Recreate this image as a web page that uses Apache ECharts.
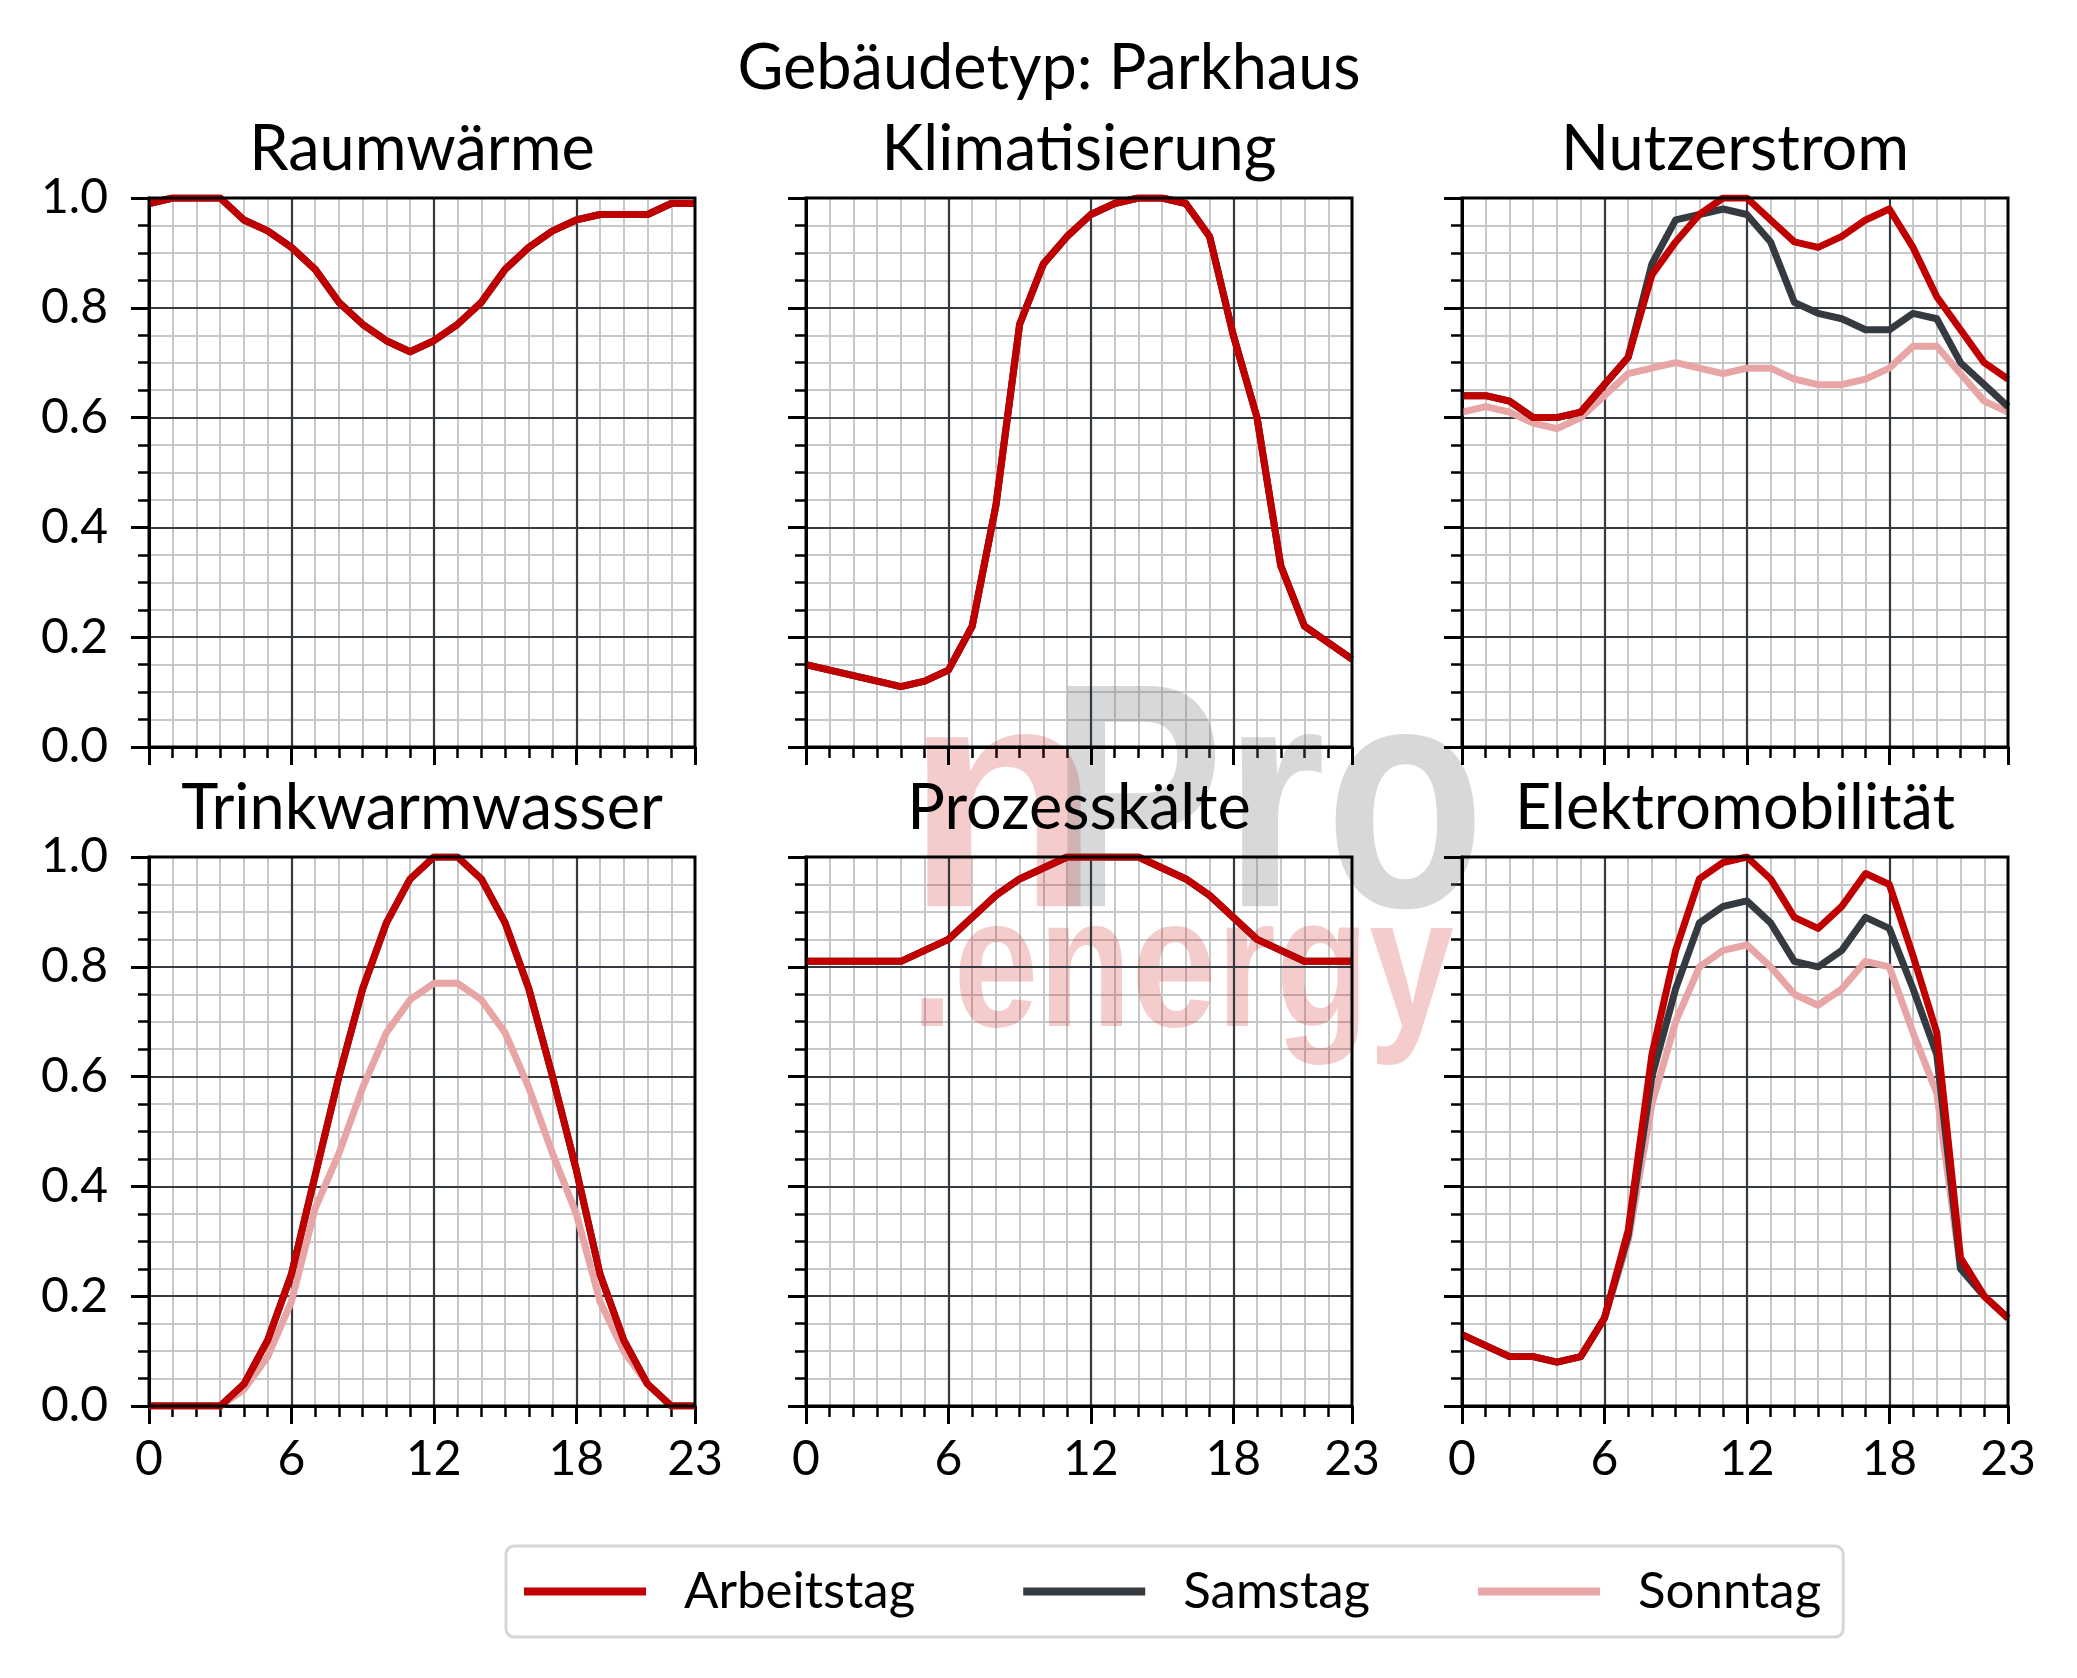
<!DOCTYPE html>
<html>
<head>
<meta charset="utf-8">
<script src="https://cdn.jsdelivr.net/npm/echarts@6/dist/echarts.min.js"></script>
<style>
html,body{margin:0;padding:0;background:#fff;}
#chart{width:2077px;height:1678px;}
</style>
</head>
<body>
<div id="chart"></div>
<script>
// ---------- data ----------
const hours = [0,1,2,3,4,5,6,7,8,9,10,11,12,13,14,15,16,17,18,19,20,21,22,23];
const xTickLabels = ['0','6','12','18','23'];
const seriesNames = ['Arbeitstag','Samstag','Sonntag'];
const panelTitles = ['Raumwärme','Klimatisierung','Nutzerstrom','Trinkwarmwasser','Prozesskälte','Elektromobilität'];
const mainTitle = 'Gebäudetyp: Parkhaus';

const raumAT = [0.99,1.00,1.00,1.00,0.96,0.94,0.91,0.87,0.81,0.77,0.74,0.72,0.74,0.77,0.81,0.87,0.91,0.94,0.96,0.97,0.97,0.97,0.99,0.99];
const raumSA = raumAT;
const raumSO = raumAT;

const klimaAT = [0.15,0.14,0.13,0.12,0.11,0.12,0.14,0.22,0.44,0.77,0.88,0.93,0.97,0.99,1.00,1.00,0.99,0.93,0.75,0.60,0.33,0.22,0.19,0.16];
const klimaSA = klimaAT;
const klimaSO = klimaAT;

const nutzerAT = [0.64,0.64,0.63,0.60,0.60,0.61,0.66,0.71,0.86,0.92,0.97,1.00,1.00,0.96,0.92,0.91,0.93,0.96,0.98,0.91,0.82,0.76,0.70,0.67];
const nutzerSA = [0.64,0.64,0.63,0.60,0.60,0.61,0.66,0.71,0.88,0.96,0.97,0.98,0.97,0.92,0.81,0.79,0.78,0.76,0.76,0.79,0.78,0.70,0.66,0.62];
const nutzerSO = [0.61,0.62,0.61,0.59,0.58,0.60,0.64,0.68,0.69,0.70,0.69,0.68,0.69,0.69,0.67,0.66,0.66,0.67,0.69,0.73,0.73,0.68,0.63,0.61];

const twwAT = [0,0,0,0,0.04,0.12,0.24,0.42,0.60,0.76,0.88,0.96,1.00,1.00,0.96,0.88,0.76,0.60,0.43,0.24,0.12,0.04,0,0];
const twwSA = twwAT;
const twwSO = [0,0,0,0,0.03,0.09,0.19,0.36,0.46,0.58,0.68,0.74,0.77,0.77,0.74,0.68,0.58,0.46,0.35,0.19,0.10,0.04,0,0];

const prozAT = [0.81,0.81,0.81,0.81,0.81,0.83,0.85,0.89,0.93,0.96,0.98,1.00,1.00,1.00,1.00,0.98,0.96,0.93,0.89,0.85,0.83,0.81,0.81,0.81];
const prozSA = prozAT;
const prozSO = prozAT;

const emobAT = [0.13,0.11,0.09,0.09,0.08,0.09,0.16,0.32,0.64,0.83,0.96,0.99,1.00,0.96,0.89,0.87,0.91,0.97,0.95,0.82,0.68,0.27,0.20,0.16];
const emobSA = [0.13,0.11,0.09,0.09,0.08,0.09,0.16,0.31,0.60,0.76,0.88,0.91,0.92,0.88,0.81,0.80,0.83,0.89,0.87,0.76,0.64,0.25,0.20,0.16];
const emobSO = [0.13,0.11,0.09,0.09,0.08,0.09,0.16,0.30,0.55,0.70,0.80,0.83,0.84,0.80,0.75,0.73,0.76,0.81,0.80,0.68,0.57,0.25,0.20,0.16];

const panelData = [
  [raumAT, raumSA, raumSO],
  [klimaAT, klimaSA, klimaSO],
  [nutzerAT, nutzerSA, nutzerSO],
  [twwAT, twwSA, twwSO],
  [prozAT, prozSA, prozSO],
  [emobAT, emobSA, emobSO]
];

// ---------- style ----------
const colors = ['#C00000', '#343A40', '#E8A5A5'];
const FONT = 'Lato';
const majorGrid = '#343A40';
const minorGrid = '#C8C8C8';
const colLeft = [149, 806, 1462];
const rowTop = [198, 857];
const gW = 546, gH = 549;

const grids = [], xAxes = [], yAxes = [], series = [], titles = [];

titles.push({
  text: mainTitle, left: 1049, top: 37, textAlign: 'center', padding: 0,
  textStyle: {fontFamily: FONT, fontSize: 63, fontWeight: 'normal', color: '#000', lineHeight: 63}
});

for (let p = 0; p < 6; p++) {
  const r = Math.floor(p / 3), c = p % 3;
  const left = colLeft[c], top = rowTop[r];
  grids.push({left: left, top: top, width: gW, height: gH, z: 0});
  grids.push({left: left, top: top, width: gW, height: gH, show: true,
              borderColor: '#000', borderWidth: 3, backgroundColor: 'transparent', z: 3});
  const gMinor = 2 * p, gMain = 2 * p + 1;

  xAxes.push({
    gridIndex: gMinor, type: 'value', min: 0, max: 23, interval: 1, z: 0,
    axisLine: {show: false},
    axisTick: {show: true, length: 11, lineStyle: {color: '#000', width: 2.5}},
    axisLabel: {show: false},
    splitLine: {show: true, showMinLine: false, showMaxLine: false, lineStyle: {color: minorGrid, width: 2}}
  });
  xAxes.push({
    gridIndex: gMain, type: 'value', min: 0, max: 23, interval: 6, z: 1,
    axisLine: {show: true, onZero: false, lineStyle: {color: '#000', width: 3}},
    axisTick: {show: true, length: 18, lineStyle: {color: '#000', width: 3}},
    axisLabel: {show: r === 1, margin: 30, fontFamily: FONT, fontSize: 48, color: '#000',
                formatter: v => { const s = String(Math.round(v)); return xTickLabels.indexOf(s) >= 0 ? s : ''; }},
    splitLine: {show: true, showMinLine: false, showMaxLine: false, lineStyle: {color: majorGrid, width: 2.2}}
  });
  yAxes.push({
    gridIndex: gMinor, type: 'value', min: 0, max: 1, interval: 0.05, z: 0,
    axisLine: {show: false},
    axisTick: {show: true, length: 11, lineStyle: {color: '#000', width: 2.5}},
    axisLabel: {show: false},
    splitLine: {show: true, showMinLine: false, showMaxLine: false, lineStyle: {color: minorGrid, width: 2}}
  });
  yAxes.push({
    gridIndex: gMain, type: 'value', min: 0, max: 1, interval: 0.2, z: 1,
    axisLine: {show: true, onZero: false, lineStyle: {color: '#000', width: 3}},
    axisTick: {show: true, length: 18, lineStyle: {color: '#000', width: 3}},
    axisLabel: {show: c === 0, margin: 41, fontFamily: FONT, fontSize: 48, color: '#000',
                formatter: v => v.toFixed(1)},
    splitLine: {show: true, showMinLine: false, showMaxLine: false, lineStyle: {color: majorGrid, width: 2.2}}
  });

  titles.push({
    text: panelTitles[p], left: left + gW / 2, top: top - 80, textAlign: 'center', padding: 0,
    textStyle: {fontFamily: FONT, fontSize: 63, fontWeight: 'normal', color: '#000', lineHeight: 63}
  });

  for (let k = 2; k >= 0; k--) {
    const arr = panelData[p][k];
    series.push({
      name: seriesNames[k], type: 'line', xAxisIndex: gMain, yAxisIndex: gMain,
      data: hours.map((h, i) => [h, arr[i]]),
      showSymbol: false, symbol: 'none', clip: true, z: 2, silent: true,
      color: colors[k],
      lineStyle: {color: colors[k], width: 7, join: 'round'},
      emphasis: {disabled: true}
    });
  }
}

// watermark (logo)
const wmRed = 'rgba(200,0,0,0.2)';
const wmGray = 'rgba(110,115,120,0.28)';
const graphic = [
  {type: 'text', x: 905, y: 818, scaleX: 1.0, z: 1, silent: true,
   style: {x: 0, y: 0, text: 'n', fill: wmRed, font: 'bold 320px "Liberation Sans"', textAlign: 'left', textVerticalAlign: 'middle'}},
  {type: 'text', x: 1050, y: 818, scaleX: 0.815, z: 1, silent: true,
   style: {x: 0, y: 0, text: 'Pro', fill: wmGray, font: 'bold 320px "Liberation Sans"', textAlign: 'left', textVerticalAlign: 'middle'}},
  {type: 'text', x: 911, y: 975, scaleX: 0.825, z: 1, silent: true,
   style: {x: 0, y: 0, text: '.energy', fill: wmRed, font: 'bold 185px "Liberation Sans"', textAlign: 'left', textVerticalAlign: 'middle'}}
];

const chart = echarts.init(document.getElementById('chart'), null, {renderer: 'canvas'});
chart.setOption({
  animation: false,
  backgroundColor: '#fff',
  title: titles,
  grid: grids,
  xAxis: xAxes,
  yAxis: yAxes,
  series: series,
  graphic: graphic,
  legend: {
    data: seriesNames, left: 506, top: 1546, orient: 'horizontal',
    padding: [18, 22, 18, 18], itemWidth: 122, itemHeight: 8, itemGap: 108, icon: 'rect',
    borderColor: '#D6D6D6', borderWidth: 3, borderRadius: 8, backgroundColor: '#fff',
    selectedMode: false,
    textStyle: {fontFamily: FONT, fontSize: 51, color: '#000', padding: [0, 0, 0, 33], lineHeight: 55}
  }
});
</script>
</body>
</html>
